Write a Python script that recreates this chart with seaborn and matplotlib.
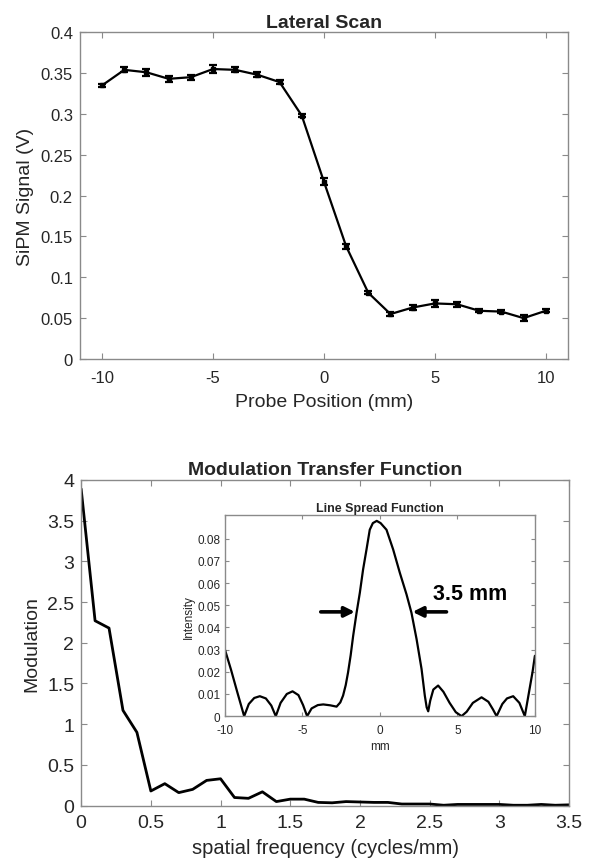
import matplotlib
matplotlib.use("Agg")
import matplotlib.pyplot as plt
import seaborn as sns
import pandas as pd
from matplotlib.ticker import FuncFormatter, MultipleLocator

# ---------------- data ----------------
position_mm = [-10, -9, -8, -7, -6, -5, -4, -3, -2, -1, 0, 1, 2, 3, 4, 5, 6, 7, 8, 9, 10]
signal_v = [0.335, 0.354, 0.351, 0.343, 0.345, 0.355, 0.354, 0.348, 0.339, 0.298, 0.217,
            0.138, 0.081, 0.055, 0.063, 0.068, 0.067, 0.059, 0.058, 0.050, 0.059]
signal_err = [0.002, 0.003, 0.004, 0.004, 0.003, 0.005, 0.003, 0.003, 0.002, 0.002, 0.004,
              0.003, 0.002, 0.002, 0.003, 0.004, 0.003, 0.002, 0.002, 0.004, 0.002]

freq_cyc_mm = [0.0, 0.1, 0.2, 0.3, 0.4, 0.5, 0.6, 0.7, 0.8, 0.9, 1.0, 1.1, 1.2, 1.3, 1.4, 1.5,
               1.6, 1.7, 1.8, 1.9, 2.0, 2.1, 2.2, 2.3, 2.4, 2.5, 2.6, 2.7, 2.8, 2.9, 3.0, 3.1,
               3.2, 3.3, 3.4, 3.5]
modulation = [3.89, 2.27, 2.18, 1.17, 0.90, 0.18, 0.27, 0.16, 0.20, 0.31, 0.33, 0.10, 0.09,
              0.17, 0.05, 0.08, 0.08, 0.04, 0.035, 0.05, 0.045, 0.04, 0.04, 0.02, 0.02, 0.02,
              0.005, 0.015, 0.015, 0.015, 0.015, 0.005, 0.005, 0.015, 0.005, 0.01]

lsf_mm = [-10.0, -9.6, -9.2, -8.75, -8.45, -8.1, -7.74, -7.35, -7.0, -6.71, -6.4, -6.0, -5.63,
          -5.25, -4.95, -4.69, -4.4, -4.0, -3.65, -3.2, -2.79, -2.55, -2.37, -2.2, -2.05, -1.88,
          -1.72, -1.5, -1.29, -1.08, -0.86, -0.65, -0.45, -0.2, 0.05, 0.43, 0.86, 1.29, 1.72,
          2.04, 2.37, 2.69, 2.9, 3.02, 3.12, 3.25, 3.45, 3.76, 4.1, 4.5, 4.9, 5.27, 5.6, 6.0,
          6.56, 7.0, 7.3, 7.53, 7.9, 8.2, 8.6, 9.0, 9.35, 9.6, 9.85, 10.0]
lsf_int = [0.0302, 0.021, 0.011, 0.0, 0.0055, 0.0082, 0.0090, 0.0080, 0.0048, 0.0, 0.0060,
           0.0100, 0.0112, 0.0095, 0.0050, 0.0, 0.0035, 0.0050, 0.0053, 0.0049, 0.0043, 0.0062,
           0.0093, 0.0140, 0.0197, 0.0275, 0.0362, 0.0466, 0.0556, 0.0661, 0.0751, 0.0840,
           0.0870, 0.0880, 0.0870, 0.0840, 0.0751, 0.0646, 0.0549, 0.0466, 0.0347, 0.0213,
           0.0093, 0.0040, 0.0022, 0.0070, 0.0120, 0.0138, 0.0110, 0.0060, 0.0018, 0.0, 0.0020,
           0.0060, 0.0085, 0.0065, 0.0030, 0.0, 0.0055, 0.0080, 0.0090, 0.0060, 0.0, 0.0100,
           0.0200, 0.0272]

fwhm_label = "3.5 mm"

# ---------------- style ----------------
sns.set_theme(style="ticks")
plt.rcParams["font.family"] = ["Liberation Sans", "DejaVu Sans"]
TXT = "#262626"
SPINE = "#8a8a8a"

fmt = FuncFormatter(lambda v, p: ("%g" % round(v, 6)))


def matlab_axes(ax, tick_fs, tick_len=4, xpad=7, ypad=5):
    for s in ax.spines.values():
        s.set_color(SPINE)
        s.set_linewidth(1.0)
    ax.tick_params(direction="in", top=True, right=True, length=tick_len, width=0.8,
                   color=SPINE, labelcolor=TXT, labelsize=tick_fs)
    ax.tick_params(axis="x", pad=xpad)
    ax.tick_params(axis="y", pad=ypad)
    ax.xaxis.set_major_formatter(fmt)
    ax.yaxis.set_major_formatter(fmt)
    ax.set_facecolor("white")


fig = plt.figure(figsize=(6.01, 8.62), dpi=100)
fig.patch.set_facecolor("white")

# ---------------- Lateral scan ----------------
ax1 = fig.add_axes([0.133, 0.5824, 0.812, 0.379])
df1 = pd.DataFrame({"pos": position_mm, "sig": signal_v, "err": signal_err})
sns.lineplot(data=df1, x="pos", y="sig", ax=ax1, color="black", lw=1.6, zorder=3)
ax1.errorbar(df1["pos"], df1["sig"], yerr=df1["err"], fmt="s", ms=3.5, color="black",
             ecolor="black", elinewidth=1.6, capsize=3, capthick=1.6, zorder=4)
ax1.set_xlim(-11, 11)
ax1.set_ylim(0, 0.4)
ax1.xaxis.set_major_locator(MultipleLocator(5))
ax1.yaxis.set_major_locator(MultipleLocator(0.05))
matlab_axes(ax1, 12, xpad=8, ypad=5)
ax1.set_xlabel("Probe Position (mm)", fontsize=14, color=TXT, labelpad=6)
ax1.set_ylabel("SiPM Signal (V)", fontsize=14, color=TXT, labelpad=5)
ax1.set_title("Lateral Scan", fontsize=14, fontweight="bold", color=TXT, pad=4)

# ---------------- MTF ----------------
ax2 = fig.add_axes([0.135, 0.0642, 0.812, 0.378])
df2 = pd.DataFrame({"f": freq_cyc_mm, "m": modulation})
sns.lineplot(data=df2, x="f", y="m", ax=ax2, color="black", lw=2.0)
ax2.set_xlim(0, 3.5)
ax2.set_ylim(0, 4)
ax2.xaxis.set_major_locator(MultipleLocator(0.5))
ax2.yaxis.set_major_locator(MultipleLocator(0.5))
matlab_axes(ax2, 14, xpad=6, ypad=5)
ax2.set_xlabel("spatial frequency (cycles/mm)", fontsize=14.5, color=TXT, labelpad=5)
ax2.set_ylabel("Modulation", fontsize=14, color=TXT, labelpad=5)
ax2.set_title("Modulation Transfer Function", fontsize=14, fontweight="bold", color=TXT, pad=4)

# ---------------- Inset LSF ----------------
ax3 = fig.add_axes([0.374, 0.168, 0.516, 0.233])
df3 = pd.DataFrame({"x": lsf_mm, "y": lsf_int})
sns.lineplot(data=df3, x="x", y="y", ax=ax3, color="black", lw=1.6)
ax3.set_xlim(-10, 10)
ax3.set_ylim(0, 0.0905)
ax3.xaxis.set_major_locator(MultipleLocator(5))
ax3.set_yticks([0, 0.01, 0.02, 0.03, 0.04, 0.05, 0.06, 0.07, 0.08])
matlab_axes(ax3, 8.5, tick_len=3, xpad=5.5, ypad=3)
ax3.set_xlabel("mm", fontsize=8.5, color=TXT, labelpad=3)
ax3.set_ylabel("Intensity", fontsize=8.5, color=TXT, labelpad=2)
ax3.set_title("Line Spread Function", fontsize=9, fontweight="bold", color=TXT, pad=3)

arrow_kw = dict(arrowstyle="-|>", lw=2.6, color="black", mutation_scale=15,
                shrinkA=0, shrinkB=0)
ax3.annotate("", xy=(-1.61, 0.047), xytext=(-3.81, 0.047), arrowprops=arrow_kw)
ax3.annotate("", xy=(2.11, 0.047), xytext=(4.30, 0.047), arrowprops=arrow_kw)
ax3.text(3.42, 0.0555, fwhm_label, fontsize=15.5, fontweight="bold", color="black",
         va="center", ha="left")

fig.savefig("out.png", dpi=100, facecolor="white")
